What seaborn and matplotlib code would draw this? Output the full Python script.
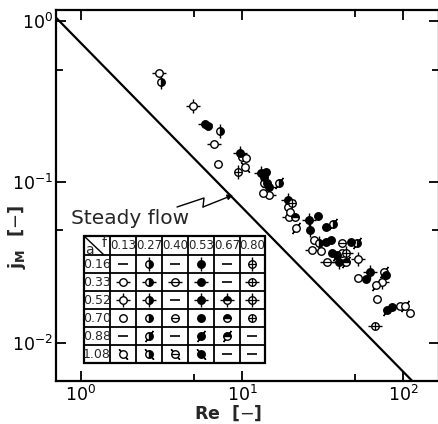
import numpy as np
import pandas as pd
import matplotlib
matplotlib.use('Agg')
import matplotlib.pyplot as plt
from matplotlib.ticker import LogLocator, NullFormatter, LogFormatterSciNotation
from matplotlib.lines import Line2D
from matplotlib.patches import Rectangle
import seaborn as sns

# ---------------- data ----------------
Re = [3.05, 3.14, 4.96, 6.15, 5.90, 7.30, 6.70, 7.10, 9.72, 10.0,
      10.6, 10.4, 9.44, 13.1, 14.1, 13.7, 14.3, 13.7, 14.7, 13.5,
      14.7, 17.0, 19.3, 20.5, 19.3, 19.9, 21.3, 19.6, 21.6, 26.1,
      29.6, 26.4, 33.2, 36.7, 28.0, 27.2, 31.0, 30.1, 33.2, 35.7,
      36.2, 38.9, 33.7, 41.8, 47.5, 51.8, 41.8, 44.3, 40.0, 44.3,
      52.5, 52.5, 58.9, 62.4, 76.2, 78.4, 68.0, 74.1, 69.0, 79.6,
      85.5, 95.8, 103.0, 110.0, 67.0]
jM = [0.475, 0.418, 0.297, 0.223, 0.229, 0.207, 0.172, 0.129, 0.151, 0.143,
      0.141, 0.124, 0.115, 0.114, 0.115, 0.107, 0.0986, 0.0986, 0.0931, 0.0855,
      0.0830, 0.0986, 0.0773, 0.0741, 0.0700, 0.0651, 0.0606, 0.0606, 0.0518, 0.0581,
      0.0615, 0.0503, 0.0525, 0.0548, 0.0436, 0.0378, 0.0373, 0.0418, 0.0424, 0.0436,
      0.0362, 0.0352, 0.0318, 0.0418, 0.0424, 0.0418, 0.0362, 0.0362, 0.0318, 0.0318,
      0.0332, 0.0253, 0.0250, 0.0276, 0.0276, 0.0265, 0.0229, 0.0239, 0.0188, 0.0160,
      0.0167, 0.0170, 0.0170, 0.0154, 0.0128]
f_val = [0.13, 0.27, 0.13, 0.53, 0.53, 0.27, 0.13, 0.13, 0.53, 0.13,
         0.13, 0.13, 0.80, 0.53, 0.53, 0.53, 0.53, 0.13, 0.53, 0.13,
         0.13, 0.27, 0.53, 0.80, 0.13, 0.13, 0.67, 0.13, 0.13, 0.53,
         0.53, 0.53, 0.53, 0.27, 0.13, 0.13, 0.13, 0.27, 0.53, 0.53,
         0.53, 0.53, 0.40, 0.40, 0.53, 0.27, 0.13, 0.80, 0.53, 0.67,
         0.13, 0.13, 0.53, 0.53, 0.13, 0.53, 0.13, 0.13, 0.13, 0.53,
         0.53, 0.13, 0.13, 0.13, 0.80]
a_val = [0.33, 0.16, 0.52, 0.70, 0.33, 0.16, 0.33, 0.70, 0.52, 0.70,
         0.70, 1.08, 0.16, 0.52, 0.70, 0.16, 0.70, 0.70, 0.33, 0.70,
         0.33, 0.88, 0.52, 0.70, 0.70, 0.70, 0.70, 0.33, 0.88, 0.52,
         0.70, 0.16, 0.70, 0.88, 0.70, 0.33, 0.70, 0.52, 0.70, 0.70,
         0.70, 0.88, 0.33, 0.70, 0.70, 0.88, 0.70, 0.52, 0.52, 0.88,
         0.52, 0.70, 0.70, 0.52, 0.88, 0.70, 0.88, 0.52, 0.70, 0.88,
         0.70, 0.70, 0.88, 0.70, 0.33]

f_levels = [0.13, 0.27, 0.40, 0.53, 0.67, 0.80]
a_levels = [0.16, 0.33, 0.52, 0.70, 0.88, 1.08]
f_labels = ['0.13', '0.27', '0.40', '0.53', '0.67', '0.80']
a_labels = ['0.16', '0.33', '0.52', '0.70', '0.88', '1.08']
# which (a, f) combinations exist in the symbol table (1) or are "—" (0)
table_cells = [
    [0, 1, 0, 1, 0, 1],
    [1, 1, 1, 1, 0, 1],
    [1, 1, 0, 1, 1, 1],
    [1, 1, 1, 1, 1, 1],
    [0, 1, 0, 1, 1, 0],
    [1, 1, 1, 1, 0, 0],
]
steady_Re = [0.70, 114.0]
steady_jM = [1.05, 0.0058]

df = pd.DataFrame({'Re': Re, 'jM': jM, 'f': f_val, 'a': a_val})

# ---------------- style ----------------
sns.set_style('ticks')
plt.rcParams['font.family'] = ['DejaVu Sans']
plt.rcParams['mathtext.fontset'] = 'dejavusans'

W, H = 439, 424
L, R, T, B = 56, 439, 9.5, 381
fig = plt.figure(figsize=(W / 100, H / 100), dpi=100)
ax = fig.add_axes([L / W, 1 - B / H, (R - L) / W, (B - T) / H])
ax.set_xscale('log')
ax.set_yscale('log')
ax.set_xlim(0.70, 167)
ax.set_ylim(0.0058, 1.18)

for s in ax.spines.values():
    s.set_linewidth(1.6)
    s.set_color('black')

for axis in (ax.xaxis, ax.yaxis):
    axis.set_major_locator(LogLocator(base=10, numticks=10))
    axis.set_minor_locator(LogLocator(base=10, subs=(5.0,), numticks=10))
    axis.set_minor_formatter(NullFormatter())
    axis.set_major_formatter(LogFormatterSciNotation())
ax.tick_params(which='both', direction='in', top=True, right=True,
               width=1.3, colors='black', labelsize=12.5)
ax.tick_params(which='major', length=7)
ax.tick_params(which='minor', length=5)
ax.tick_params(axis='y', pad=2)
ax.tick_params(axis='x', pad=3)

# steady flow line
sns.lineplot(x=steady_Re, y=steady_jM, ax=ax, color='black', lw=1.6, zorder=2)

BODY = {0.13: 'open', 0.27: 'right', 0.40: 'minus', 0.53: 'full', 0.67: 'top', 0.80: 'plus'}
FLAG = {0.16: '|', 0.33: '_', 0.52: '+', 0.70: None, 0.88: (2, 2, -35), 1.08: (2, 2, 40)}


def draw_symbol(x, y, f, a, transform, z=3, ms=5.4):
    kw = dict(ls='none', transform=transform, clip_on=False)
    flag = FLAG[a]
    if flag is not None:
        ax.plot(x, y, marker=flag, ms=ms * 1.8, mec='black', mew=1.0, zorder=z, **kw)
    body = BODY[f]
    if body in ('open', 'minus', 'plus'):
        ax.plot(x, y, marker='o', ms=ms, mfc='white', mec='black', mew=1.0, zorder=z + 1, **kw)
        if body == 'minus':
            ax.plot(x, y, marker='_', ms=ms, mec='black', mew=0.9, zorder=z + 2, **kw)
        if body == 'plus':
            ax.plot(x, y, marker='+', ms=ms, mec='black', mew=0.9, zorder=z + 2, **kw)
    elif body == 'full':
        ax.plot(x, y, marker='o', ms=ms, mfc='black', mec='black', mew=1.0, zorder=z + 1, **kw)
    else:
        ax.plot(x, y, marker='o', fillstyle=body, ms=ms, mfc='black', mfcalt='white',
                mec='black', mew=1.0, zorder=z + 1, **kw)


for (fv, av), g in df.groupby(['f', 'a']):
    draw_symbol(g['Re'].values, g['jM'].values, fv, av, ax.transData, z=3)


def P(px, py):
    return ((px - L) / (R - L), (B - py) / (B - T))


# Steady flow label + zigzag arrow
sx, sy = P(71, 224)
ax.text(sx, sy, 'Steady flow', transform=ax.transAxes, fontsize=14.5, va='baseline', ha='left')
zz = [P(177, 207), P(204, 198), P(203, 207)]
ax.add_line(Line2D([p[0] for p in zz], [p[1] for p in zz], transform=ax.transAxes,
                   color='black', lw=1.0))
ax.annotate('', xy=P(233, 195), xytext=P(203, 207), xycoords='axes fraction',
            textcoords='axes fraction',
            arrowprops=dict(arrowstyle='-|>', color='black', lw=1.0, mutation_scale=8,
                            shrinkA=0, shrinkB=0))

# ---------------- symbol table ----------------
col_edges = [84, 110, 136, 162, 188, 214, 240, 265]
row_edges = [236, 255, 273, 291, 309, 327, 345, 363]
x0, y0 = P(col_edges[0], row_edges[-1])
x1, y1 = P(col_edges[-1], row_edges[0])
ax.add_patch(Rectangle((x0, y0), x1 - x0, y1 - y0, transform=ax.transAxes,
                       facecolor='white', edgecolor='black', lw=1.6, zorder=10))
for cx in col_edges[1:-1]:
    a0, b0 = P(cx, row_edges[0])
    a1, b1 = P(cx, row_edges[-1])
    ax.add_line(Line2D([a0, a1], [b0, b1], transform=ax.transAxes, color='black', lw=1.3, zorder=11))
for ry in row_edges[1:-1]:
    a0, b0 = P(col_edges[0], ry)
    a1, b1 = P(col_edges[-1], ry)
    ax.add_line(Line2D([a0, a1], [b0, b1], transform=ax.transAxes, color='black', lw=1.3, zorder=11))
# diagonal in corner cell
d0 = P(col_edges[0], row_edges[0])
d1 = P(col_edges[1] - 6, row_edges[1])
ax.add_line(Line2D([d0[0], d1[0]], [d0[1], d1[1]], transform=ax.transAxes, color='black', lw=1.0, zorder=11))
tx, ty = P(col_edges[0] + 5, row_edges[1] - 5)
ax.text(tx, ty, 'a', transform=ax.transAxes, fontsize=10, ha='center', va='center', zorder=12)
tx, ty = P(col_edges[1] - 6, row_edges[0] + 7)
ax.text(tx, ty, 'f', transform=ax.transAxes, fontsize=10, ha='center', va='center', zorder=12)

tfont = dict(family=['Liberation Sans Narrow', 'DejaVu Sans'], zorder=12,
             ha='center', va='center', transform=ax.transAxes)
for j, lab in enumerate(f_labels):
    cx = (col_edges[j + 1] + col_edges[j + 2]) / 2
    cy = (row_edges[0] + row_edges[1]) / 2
    ax.text(*P(cx, cy), lab, fontsize=8.5, **tfont)
for i, lab in enumerate(a_labels):
    cx = (col_edges[0] + col_edges[1]) / 2
    cy = (row_edges[i + 1] + row_edges[i + 2]) / 2
    ax.text(*P(cx, cy), lab, fontsize=9, **tfont)
    for j, fv in enumerate(f_levels):
        ccx = (col_edges[j + 1] + col_edges[j + 2]) / 2
        px_, py_ = P(ccx, cy)
        if table_cells[i][j]:
            draw_symbol([px_], [py_], fv, a_levels[i], ax.transAxes, z=13, ms=5.4)
        else:
            ax.plot([px_], [py_], ls='none', marker='_', ms=7, mec='black', mew=1.2,
                    transform=ax.transAxes, zorder=13, clip_on=False)

# axis labels
fig.text(228 / W, 1 - 413 / H, r'Re  [$-$]', fontsize=12.5, ha='center', va='center', fontweight='bold')
fig.text(17 / W, 1 - 237 / H, r'j$_\mathregular{M}$  [$-$]', fontsize=13, ha='center', va='center',
         rotation=90, fontweight='bold')

fig.savefig('out.png', dpi=100)
